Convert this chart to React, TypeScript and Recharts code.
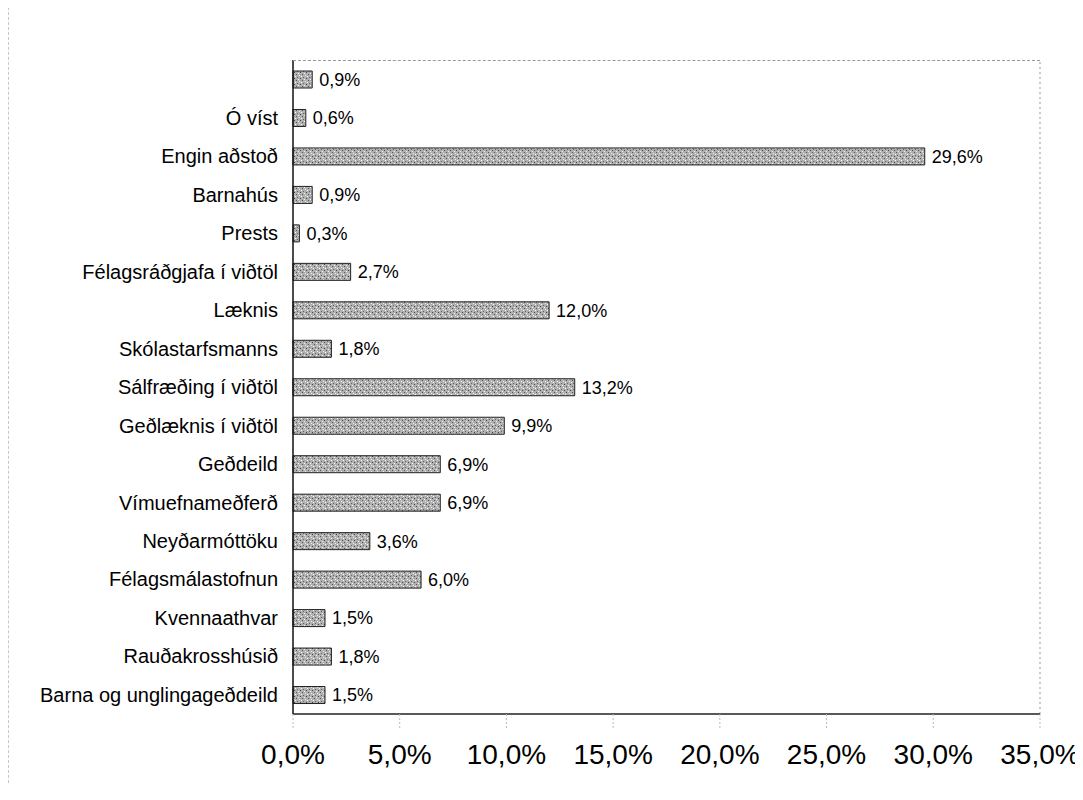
import { BarChart, Bar, XAxis, YAxis, LabelList, ReferenceLine } from 'recharts';

const categories = [
    '',
    'Ó víst',
    'Engin aðstoð',
    'Barnahús',
    'Prests',
    'Félagsráðgjafa í viðtöl',
    'Læknis',
    'Skólastarfsmanns',
    'Sálfræðing í viðtöl',
    'Geðlæknis í viðtöl',
    'Geðdeild',
    'Vímuefnameðferð',
    'Neyðarmóttöku',
    'Félagsmálastofnun',
    'Kvennaathvar',
    'Rauðakrosshúsið',
    'Barna og unglingageðdeild',
];

const values = [0.9, 0.6, 29.6, 0.9, 0.3, 2.7, 12.0, 1.8, 13.2, 9.9, 6.9, 6.9, 3.6, 6.0, 1.5, 1.8, 1.5];

const xTicks = [0, 5, 10, 15, 20, 25, 30, 35];

const data = categories.map((name, i) => ({ name, value: values[i] }));

const pct = (v: number) => `${v.toFixed(1).replace('.', ',')}%`;

export default function App() {
    return (
        <div style={{ position: 'relative', width: 1075, height: 792 }}>
            {/* faint scan frame */}
            <div
                style={{
                    position: 'absolute',
                    left: 0,
                    top: -6,
                    width: 1075,
                    height: 780,
                    borderTop: '1px dashed #c8c8c8',
                    borderLeft: '1px dashed #c8c8c8',
                    pointerEvents: 'none',
                }}
            />
            <BarChart
                width={1075}
                height={792}
                data={data}
                layout="vertical"
                margin={{ top: 52, right: 43, bottom: 8, left: 0 }}
                barSize={17}
            >
                <defs>
                    <pattern id="stipple" width="6" height="6" patternUnits="userSpaceOnUse">
                        <rect width="6" height="6" fill="#b0b0b0" />
                        <rect x="0" y="0" width="1" height="1" fill="#555" />
                        <rect x="3" y="1" width="1" height="1" fill="#eee" />
                        <rect x="1" y="3" width="1" height="1" fill="#666" />
                        <rect x="4" y="4" width="1" height="1" fill="#444" />
                        <rect x="5" y="2" width="1" height="1" fill="#fff" />
                        <rect x="2" y="5" width="1" height="1" fill="#f4f4f4" />
                    </pattern>
                </defs>
                <XAxis
                    type="number"
                    domain={[0, 35]}
                    ticks={xTicks}
                    tickFormatter={pct}
                    axisLine={{ stroke: '#222', strokeWidth: 1.5 }}
                    tickLine={{ stroke: '#bbb', strokeDasharray: '2 2' }}
                    tickSize={14}
                    tickMargin={16}
                    height={78}
                    tick={{ fill: '#000', fontSize: 28, fontFamily: 'Liberation Sans, Arial, sans-serif' }}
                    interval={0}
                />
                <YAxis
                    type="category"
                    dataKey="name"
                    width={285}
                    axisLine={{ stroke: '#111', strokeWidth: 1.5 }}
                    tickLine={false}
                    tickSize={5}
                    tickMargin={10}
                    tick={{ fill: '#000', fontSize: 20, fontFamily: 'Liberation Sans, Arial, sans-serif' }}
                    interval={0}
                />
                <ReferenceLine x={35} stroke="#999" strokeDasharray="2 3" />
                <Bar dataKey="value" fill="url(#stipple)" stroke="#222" strokeWidth={1} isAnimationActive={false}>
                    <LabelList
                        dataKey="value"
                        position="right"
                        offset={7}
                        formatter={(v: any) => pct(Number(v))}
                        style={{ fill: '#000', fontSize: 18, fontFamily: 'Liberation Sans, Arial, sans-serif' }}
                    />
                </Bar>
            </BarChart>
            <div
                style={{
                    position: 'absolute',
                    left: 285,
                    top: 52,
                    width: 747,
                    height: 0,
                    borderTop: '1px dashed #999',
                    pointerEvents: 'none',
                }}
            />
        </div>
    );
}
